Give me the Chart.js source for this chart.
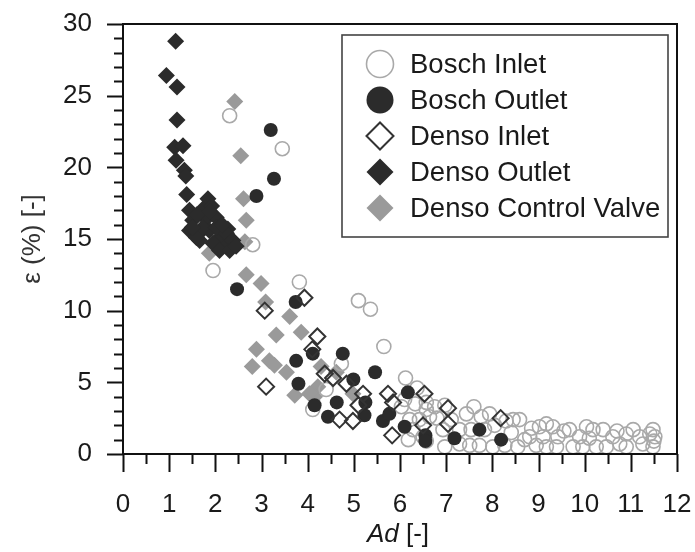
<!DOCTYPE html>
<html>
<head>
<meta charset="utf-8">
<script src="https://cdn.jsdelivr.net/npm/chart.js@4/dist/chart.umd.min.js"></script>
<style>
  html, body { margin: 0; padding: 0; background: #fff; }
  #wrap { width: 695px; height: 552px; }
</style>
</head>
<body>
<div id="wrap"><canvas id="c" width="695" height="552"></canvas></div>
<script>
// Series: [Ad, ε (%)]
const seriesNames = ['Bosch Inlet', 'Bosch Outlet', 'Denso Inlet', 'Denso Outlet', 'Denso Control Valve'];

const boschInlet = [
  [2.31,23.6],[3.45,21.3],[2.81,14.6],[1.95,12.8],[3.82,12.0],[5.10,10.7],[5.36,10.1],
  [5.65,7.5],[4.73,6.3],[4.11,3.1],[4.40,4.5],[6.12,5.3],
  [6.37,4.6],[6.10,3.8],[6.03,3.3],[6.33,3.5],[6.57,3.6],[6.57,3.1],[6.75,3.3],[6.97,3.4],
  [6.21,2.4],[6.42,2.4],[6.64,2.6],[6.80,2.5],[7.11,2.4],[6.93,1.7],[6.28,1.7],[6.50,1.2],
  [6.18,1.0],[6.57,0.9],[6.97,0.5],[7.29,0.7],[7.29,1.7],[7.44,2.8],[7.60,3.3],[7.76,2.6],
  [7.94,2.8],[8.05,2.0],[7.51,0.6],[7.72,0.6],[7.54,1.7],[7.83,1.7],[8.01,0.5],[8.27,0.6],
  [8.30,2.3],[8.41,1.5],[8.45,2.4],[8.59,2.4],[8.70,1.0],[8.55,0.5],[8.81,1.2],[8.95,0.6],
  [9.02,1.9],[9.17,2.1],[9.31,1.9],[9.10,1.2],[9.17,0.5],[9.39,0.5],[9.42,1.2],[9.67,1.7],
  [9.75,0.5],[9.89,1.2],[9.96,0.5],[10.04,1.9],[10.18,1.7],[10.25,0.5],[10.40,1.7],[10.47,0.5],
  [10.61,1.2],[10.76,0.7],[10.90,1.4],[10.90,0.5],[11.05,1.7],[11.19,1.2],[11.26,0.7],[11.41,1.4],
  [11.48,1.7],[11.52,1.2],[11.48,0.5],[11.50,0.9],[9.55,1.6],[10.10,1.1],[10.70,1.6],[8.85,1.8]
];

const boschOutlet = [
  [3.20,22.6],[3.27,19.2],[2.89,18.0],[2.47,11.5],[3.74,10.6],[4.76,7.0],[4.11,7.0],
  [3.75,6.5],[3.80,4.9],[4.15,3.4],[4.44,2.6],[4.63,3.6],[4.99,5.2],[5.25,3.6],[5.23,2.7],
  [5.46,5.7],[5.63,2.3],[5.77,2.8],[6.17,4.3],[6.10,1.9],[6.55,1.3],[6.55,0.9],[7.18,1.1],
  [7.72,1.7],[8.19,1.0]
];

const densoInlet = [
  [3.93,10.9],[3.07,10.0],[4.21,8.2],[4.10,7.3],[3.10,4.7],[4.37,5.6],[4.55,5.3],[4.84,4.9],
  [5.20,4.2],[5.10,3.4],[4.69,2.4],[4.98,2.3],[5.74,4.2],[5.85,3.6],[5.83,1.3],[6.53,4.2],
  [6.50,2.0],[7.04,3.2],[7.04,2.1],[8.18,2.5]
];

const densoOutlet = [
  [1.14,28.8],[0.94,26.4],[1.17,25.6],[1.17,23.3],[1.12,21.4],[1.30,21.5],[1.15,20.5],
  [1.33,19.8],[1.36,19.4],[1.38,18.1],[1.84,17.8],
  [1.44,17.0],[1.73,17.1],[1.51,16.3],[1.80,16.4],[2.02,16.5],[1.44,15.6],[1.62,15.3],
  [1.87,15.6],[2.09,15.1],[2.27,15.7],[2.31,14.9],[1.95,14.7],[1.66,14.9],[1.73,15.8],
  [2.02,15.8],[2.24,15.4],[2.27,14.6],[2.09,14.2],[2.38,14.9],[1.59,15.1],[2.31,14.2],
  [1.92,17.3],[1.60,16.7],[2.15,16.0],[1.50,15.8],[2.45,14.5],[1.88,16.9]
];

const densoControlValve = [
  [2.42,24.6],[2.55,20.8],[2.61,17.8],[2.67,16.3],[2.64,14.8],[1.87,14.0],[2.67,12.5],
  [2.99,11.9],[3.09,10.6],[3.61,9.6],[3.32,8.3],[3.86,8.5],[2.89,7.3],[2.80,6.1],[3.17,6.5],
  [3.28,6.2],[3.54,5.7],[3.72,4.1],[4.22,4.7],[4.29,6.1],[4.15,4.0],[4.98,4.2],[4.62,5.7],
  [4.04,4.2]
];

// Axis ranges and labelled ticks
const xTickValues = [0,1,2,3,4,5,6,7,8,9,10,11,12];
const yTickValues = [0,5,10,15,20,25,30];

const FONT = "'Liberation Sans', Arial, Helvetica, sans-serif";
const toPts = arr => arr.map(p => ({ x: p[0], y: p[1] }));

const datasets = [
  { label: seriesNames[0], data: toPts(boschInlet), pointStyle: 'circle', pointRadius: 7,
    backgroundColor: 'rgba(255,255,255,0)', borderColor: '#a9a9a9', borderWidth: 1.6, order: 2 },
  { label: seriesNames[1], data: toPts(boschOutlet), pointStyle: 'circle', pointRadius: 7,
    backgroundColor: '#2b2b2b', borderColor: '#2b2b2b', borderWidth: 0, order: 1 },
  { label: seriesNames[2], data: toPts(densoInlet), pointStyle: 'rectRot', pointRadius: 8,
    backgroundColor: 'rgba(255,255,255,0)', borderColor: '#333333', borderWidth: 2, order: 0 },
  { label: seriesNames[3], data: toPts(densoOutlet), pointStyle: 'rectRot', pointRadius: 8.5,
    backgroundColor: '#2b2b2b', borderColor: '#2b2b2b', borderWidth: 0, order: 3 },
  { label: seriesNames[4], data: toPts(densoControlValve), pointStyle: 'rectRot', pointRadius: 8.5,
    backgroundColor: '#9a9a9a', borderColor: '#9a9a9a', borderWidth: 0, order: 4 }
];

// Keep the plot area fixed: scale boxes get exact sizes and no edge padding
const fixBox = size => s => {
  if (s.isHorizontal()) s.height = size; else s.width = size;
  s.paddingLeft = s.paddingRight = s.paddingTop = s.paddingBottom = 0;
};

// Frame, tick marks, x title and boxed legend
const decorations = {
  id: 'decorations',
  afterDraw(chart) {
    const { ctx, chartArea: a, scales: { x, y } } = chart;
    ctx.save();
    ctx.strokeStyle = '#111';
    ctx.lineWidth = 2;
    ctx.strokeRect(a.left, a.top, a.right - a.left, a.bottom - a.top);

    ctx.beginPath();
    for (let v = y.min; v <= y.max; v += 1) {
      const py = Math.round(y.getPixelForValue(v)) + 0.5;
      const len = (v % 5 === 0) ? 16 : 9;
      ctx.moveTo(a.left - len, py);
      ctx.lineTo(a.left, py);
    }
    for (let k = x.min * 2; k <= x.max * 2; k += 1) {
      const px = Math.round(x.getPixelForValue(k / 2)) + 0.5;
      const len = (k % 2 === 0) ? 18 : 10;
      ctx.moveTo(px, a.bottom);
      ctx.lineTo(px, a.bottom + len);
    }
    ctx.stroke();

    // x title: italic "Ad" followed by " [-]"
    ctx.fillStyle = '#1a1a1a';
    ctx.textBaseline = 'middle';
    const italic = 'italic 26px ' + FONT, normal = '26px ' + FONT;
    ctx.font = italic; const w1 = ctx.measureText('Ad').width;
    ctx.font = normal; const w2 = ctx.measureText(' [-]').width;
    const cx = (a.left + a.right) / 2 - 2;
    const tx = cx - (w1 + w2) / 2;
    ctx.textAlign = 'left';
    ctx.font = italic; ctx.fillText('Ad', tx, 535);
    ctx.font = normal; ctx.fillText(' [-]', tx + w1, 535);

    // legend box
    const bx = 342, by = 35, bw = 326, bh = 202;
    ctx.fillStyle = '#fff';
    ctx.fillRect(bx, by, bw, bh);
    ctx.strokeStyle = '#444';
    ctx.lineWidth = 1.6;
    ctx.strokeRect(bx, by, bw, bh);
    chart.data.datasets.forEach((ds, i) => {
      const ry = 64 + i * 36;
      ctx.fillStyle = ds.backgroundColor;
      ctx.strokeStyle = ds.borderColor;
      ctx.lineWidth = ds.borderWidth;
      Chart.helpers.drawPoint(ctx, {
        pointStyle: ds.pointStyle,
        radius: 13.5,
        rotation: 0,
        borderWidth: ds.borderWidth
      }, 380, ry);
      ctx.fillStyle = '#1a1a1a';
      ctx.font = '27.5px ' + FONT;
      ctx.textAlign = 'left';
      ctx.textBaseline = 'middle';
      ctx.fillText(ds.label, 410, ry + 1);
    });
    ctx.restore();
  }
};

new Chart(document.getElementById('c'), {
  type: 'scatter',
  data: { datasets },
  options: {
    responsive: false,
    devicePixelRatio: 1,
    animation: false,
    events: [],
    layout: { padding: { top: 24, right: 18, left: 0, bottom: 0 } },
    plugins: { legend: { display: false }, tooltip: { enabled: false } },
    scales: {
      x: {
        type: 'linear', min: 0, max: 12,
        afterBuildTicks: s => { s.ticks = xTickValues.map(v => ({ value: v })); },
        afterFit: fixBox(98),
        grid: { display: false, drawTicks: false },
        border: { display: false },
        ticks: { font: { family: FONT, size: 26 }, color: '#1a1a1a', padding: 35,
                 autoSkip: false, maxRotation: 0 }
      },
      y: {
        type: 'linear', min: 0, max: 30,
        afterBuildTicks: s => { s.ticks = yTickValues.map(v => ({ value: v })); },
        afterFit: fixBox(123),
        grid: { display: false, drawTicks: false },
        border: { display: false },
        ticks: { font: { family: FONT, size: 26 }, color: '#1a1a1a', padding: 31 },
        title: { display: true, text: 'ε (%) [-]', color: '#333',
                 font: { family: FONT, size: 26 }, padding: { top: 17, bottom: 0 } }
      }
    }
  },
  plugins: [decorations]
});
</script>
</body>
</html>
